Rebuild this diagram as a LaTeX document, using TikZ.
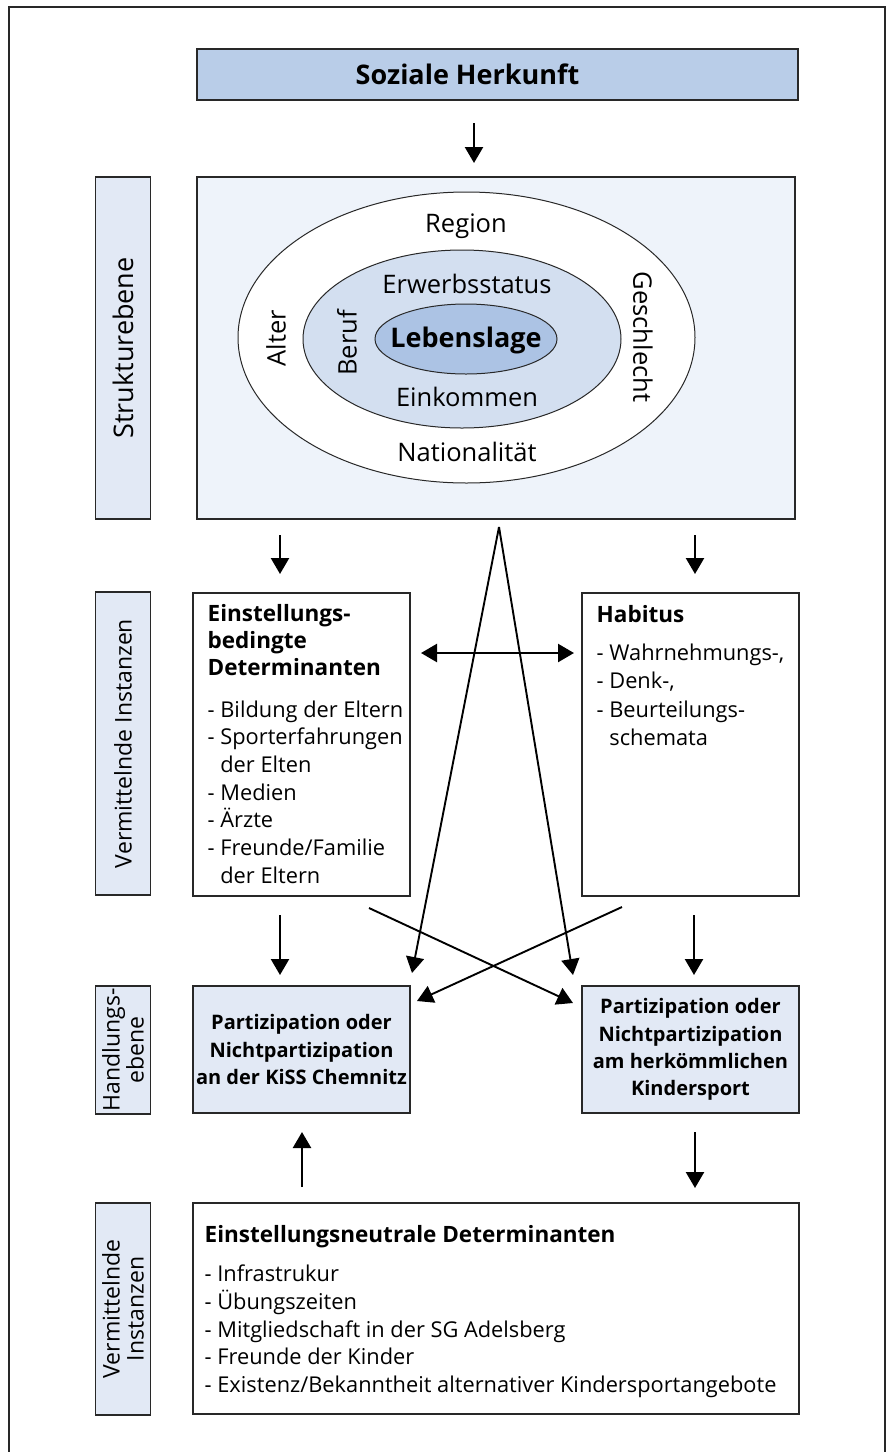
\documentclass[tikz,border=0pt]{standalone}
\usepackage{fontspec}
\setmainfont{Open Sans}
\usetikzlibrary{arrows.meta,shapes.geometric}

\definecolor{herkunftblau}{RGB}{185,205,232}
\definecolor{strukturblau}{RGB}{238,243,250}
\definecolor{mittelblau}{RGB}{211,223,240}
\definecolor{kernblau}{RGB}{172,195,228}
\definecolor{ebeneblau}{RGB}{226,233,245}
\definecolor{linie}{RGB}{40,40,40}

\tikzset{
  kasten/.style={draw=linie,line width=1.3pt,inner sep=0pt},
  ebene/.style={kasten,fill=ebeneblau,rotate=90,minimum height=55,font=\fontsize{23}{24}\selectfont,align=center},
  pfeil/.style={line width=2.4pt,-{Triangle[length=16pt,width=18pt]}},
  duenn/.style={line width=1.9pt,-{Triangle[length=16pt,width=18pt]}},
  liste/.style={anchor=base west,inner sep=0pt,font=\fontsize{21.8}{27.7}\selectfont},
  kopf/.style={anchor=base west,inner sep=0pt,font=\fontsize{22.5}{27}\selectfont\bfseries},
  ring/.style={ellipse,draw=linie,line width=1pt,inner sep=0pt},
  ringtext/.style={inner sep=0pt,font=\fontsize{25.5}{27}\selectfont}
}

\begin{document}
\begin{tikzpicture}[x=1pt,y=-1pt]
\useasboundingbox (0,0) rectangle (887,1452);
\draw[line width=2.6pt,draw=linie] (9,1460) -- (9,7) -- (885,7) -- (885,1460);

% oberste Ebene
\node[kasten,fill=herkunftblau,minimum width=601,minimum height=51] (herkunft) at (497.5,74.5) {};
\node[inner sep=0pt,font=\fontsize{27}{29}\selectfont\bfseries] (herkunfttext) at (467.5,74.5) {Soziale Herkunft};

% Strukturebene
\node[ebene,minimum width=342,font=\fontsize{27}{28}\selectfont] (strukturlabel) at (123,348) {Strukturebene};
\node[kasten,fill=strukturblau,minimum width=598,minimum height=342] (struktur) at (496,348) {};
\node[ring,fill=white,minimum width=457,minimum height=291] (aussen) at (466.5,337.5) {};
\node[ring,fill=mittelblau,minimum width=318,minimum height=178] (mitte) at (462,339) {};
\node[ring,fill=kernblau,minimum width=182,minimum height=70] (kern) at (466,339) {};
\node[ringtext,anchor=base] (region) at (466,232.7) {Region};
\node[ringtext,anchor=base] (erwerb) at (467,293.3) {Erwerbsstatus};
\node[ringtext,anchor=base,font=\fontsize{27}{28}\selectfont\bfseries] (lebenslage) at (466,347) {Lebenslage};
\node[ringtext,anchor=base] (einkommen) at (467,406.7) {Einkommen};
\node[ringtext,anchor=base] (nation) at (467,461.7) {Nationalität};
\node[ringtext,rotate=90] (alter) at (276,338) {Alter};
\node[ringtext,rotate=90] (beruf) at (347,343) {Beruf};
\node[ringtext,rotate=-90] (geschlecht) at (643,337) {Geschlecht};

% vermittelnde Instanzen
\node[ebene,minimum width=303] (vermlabel) at (123,743.5) {Vermittelnde Instanzen};
\node[kasten,fill=white,minimum width=217,minimum height=303] (bedingt) at (301.5,744.5) {};
\node[kasten,fill=white,minimum width=217,minimum height=303] (habitus) at (690.5,744.5) {};
\foreach \txt [count=\i from 0] in {Einstellungs-,bedingte,Determinanten}
  \node[kopf] (bedingt-k\i) at (207.5,621.7+27*\i) {\txt};
\foreach \txt [count=\i from 0] in {- Bildung der Eltern,- Sporterfahrungen,\phantom{- }der Elten,- Medien,- Ärzte,- Freunde/Familie,\phantom{- }der Eltern}
  \node[liste] (bedingt-\i) at (207.5,717+27.7*\i) {\txt};
\node[kopf] (habitus-k) at (596.5,622) {Habitus};
\foreach \txt [count=\i from 0] in {{- Wahrnehmungs-,},{- Denk-,},- Beurteilungs-,\phantom{- }schemata}
  \node[liste] (habitus-\i) at (596.5,660+28.5*\i) {\txt};

% Handlungsebene
\node[ebene,minimum width=128] (handlabel) at (123,1050) {Handlungs-\\ebene};
\node[kasten,fill=ebeneblau,minimum width=217,minimum height=127,align=center,
      font=\fontsize{20}{27.4}\selectfont\bfseries] (kiss) at (301.5,1049.5)
      {Partizipation oder\\Nichtpartizipation\\an der KiSS Chemnitz};
\node[kasten,fill=ebeneblau,minimum width=217,minimum height=127,align=center,
      font=\fontsize{20}{27.4}\selectfont\bfseries] (kinder) at (690.5,1049.5)
      {Partizipation oder\\Nichtpartizipation\\am herkömmlichen\\Kindersport};

% untere vermittelnde Instanzen
\node[ebene,minimum width=212] (neutrallabel) at (123,1309) {Vermittelnde\\Instanzen};
\node[kasten,fill=white,minimum width=606,minimum height=211] (neutral) at (496,1308.5) {};
\node[kopf] (neutral-k) at (204.5,1242.7) {Einstellungsneutrale Determinanten};
\foreach \txt [count=\i from 0] in {- Infrastrukur,- Übungszeiten,- Mitgliedschaft in der SG Adelsberg,- Freunde der Kinder,- Existenz/Bekanntheit alternativer Kindersportangebote}
  \node[liste] (neutral-\i) at (204.5,1281.7+27.7*\i) {\txt};

% Pfeile
\coordinate (h1) at (474,123);   \coordinate (h2) at (474,163);
\coordinate (s1) at (280,535);   \coordinate (s2) at (280,574);
\coordinate (s3) at (695,535);   \coordinate (s4) at (695,574);
\coordinate (w1) at (421,653);   \coordinate (w2) at (574,653);
\coordinate (spitze) at (499,527);
\coordinate (kissziel) at (412,973);  \coordinate (kinderziel) at (573,975);
\coordinate (b1) at (280,915);   \coordinate (b2) at (280,975);
\coordinate (b3) at (694,915);   \coordinate (b4) at (694,975);
\coordinate (x1) at (369,908);   \coordinate (x2) at (573,1003);
\coordinate (x3) at (622,907);   \coordinate (x4) at (417,1001);
\coordinate (u1) at (302,1187);  \coordinate (u2) at (302,1132);
\coordinate (u3) at (695,1132);  \coordinate (u4) at (695,1188);

\draw[pfeil] (h1) -- (h2);
\draw[pfeil] (s1) -- (s2);
\draw[pfeil] (s3) -- (s4);
\draw[pfeil,{Triangle[length=16pt,width=18pt]}-{Triangle[length=16pt,width=18pt]}] (w1) -- (w2);
\draw[duenn] (spitze) -- (kissziel);
\draw[duenn] (spitze) -- (kinderziel);
\draw[pfeil] (b1) -- (b2);
\draw[pfeil] (b3) -- (b4);
\draw[duenn] (x1) -- (x2);
\draw[duenn] (x3) -- (x4);
\draw[pfeil] (u1) -- (u2);
\draw[pfeil] (u3) -- (u4);
\end{tikzpicture}
\end{document}
